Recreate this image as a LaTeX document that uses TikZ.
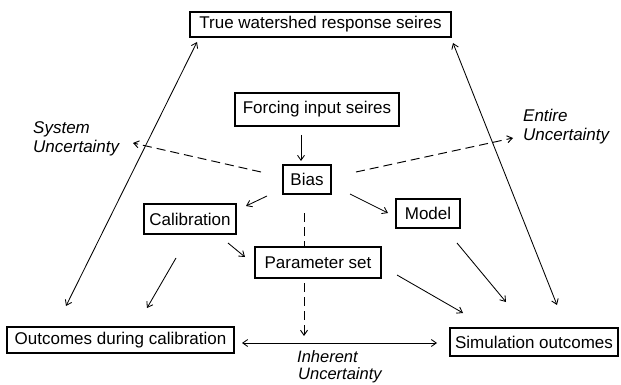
\documentclass[tikz,border=0pt]{standalone}
\usepackage{fontspec}
\setmainfont{Liberation Sans}
\usetikzlibrary{arrows.meta}
\begin{document}
\begin{tikzpicture}[x=1pt,y=-1pt,
  box/.style={draw, line width=1.2pt, fill=white, inner sep=0pt, font=\fontsize{17}{20}\selectfont},
  lab/.style={font=\fontsize{17}{19}\selectfont\itshape, align=left, inner sep=0pt, anchor=north west},
  tipb/.tip={Straight Barb[length=5pt,width=7pt]},
  arr/.style={line width=0.85pt, -tipb},
  darr/.style={line width=0.85pt, tipb-tipb},
  dsh/.style={arr, line width=0.95pt, dash pattern=on 9pt off 5pt}]
\fill[white] (0,0) rectangle (621,385);
\useasboundingbox (0,0) rectangle (621,385);

% dashed line behind the parameter box
\coordinate (dv1) at (304,213);
\coordinate (dv2) at (304,336);
\draw[dsh] (dv1) -- (dv2);

% boxes
\node[box, minimum width=261pt, minimum height=25pt] (tw) at (320.5,24.5) {True watershed response seires};
\node[box, minimum width=164pt, minimum height=33pt] (forc) at (317,109.5) {Forcing input seires};
\node[box, minimum width=48pt, minimum height=29pt] (bias) at (307,179.5) {Bias};
\node[box, minimum width=92pt, minimum height=30pt] (calib) at (190,219) {Calibration};
\node[box, minimum width=64pt, minimum height=29pt] (model) at (428,213.5) {Model};
\node[box, minimum width=126pt, minimum height=31pt] (param) at (318,262.5) {Parameter set};
\node[box, minimum width=227pt, minimum height=26pt] (outcal) at (120.5,340) {Outcomes during calibration};
\node[box, minimum width=168pt, minimum height=28pt] (sim) at (534,342) {Simulation outcomes};

% labels
\node[lab] (sysu) at (33,121) {System\\Uncertainty};
\node[lab] (entu) at (523,109) {Entire\\Uncertainty};
\node[lab, font=\fontsize{16.5}{17.5}\selectfont\itshape] (inhu) at (297,350) {Inherent\\\hspace*{1pt}Uncertainty};

% connector end points
\coordinate (l1) at (66,306);   \coordinate (l2) at (197,42);
\coordinate (r1) at (557,305);  \coordinate (r2) at (453,43);
\coordinate (fb1) at (301,135); \coordinate (fb2) at (301,161);
\coordinate (s1) at (261,172);  \coordinate (s2) at (133,143);
\coordinate (e1) at (356,172);  \coordinate (e2) at (513,138);
\coordinate (bc1) at (267,196); \coordinate (bc2) at (246,206);
\coordinate (bm1) at (350,194); \coordinate (bm2) at (388,213);
\coordinate (cp1) at (228,243); \coordinate (cp2) at (245,257);
\coordinate (co1) at (176,258); \coordinate (co2) at (147,308);
\coordinate (ps1) at (397,275); \coordinate (ps2) at (463,313);
\coordinate (ms1) at (457,243); \coordinate (ms2) at (506,302);
\coordinate (h1) at (242,343);  \coordinate (h2) at (437,343);

\draw[darr] (l1) -- (l2);
\draw[darr] (r1) -- (r2);
\draw[arr] (fb1) -- (fb2);
\draw[dsh] (s1) -- (s2);
\draw[dsh] (e1) -- (e2);
\draw[arr] (bc1) -- (bc2);
\draw[arr] (bm1) -- (bm2);
\draw[arr] (cp1) -- (cp2);
\draw[arr] (co1) -- (co2);
\draw[arr] (ps1) -- (ps2);
\draw[arr] (ms1) -- (ms2);
\draw[darr] (h1) -- (h2);
\end{tikzpicture}
\end{document}
